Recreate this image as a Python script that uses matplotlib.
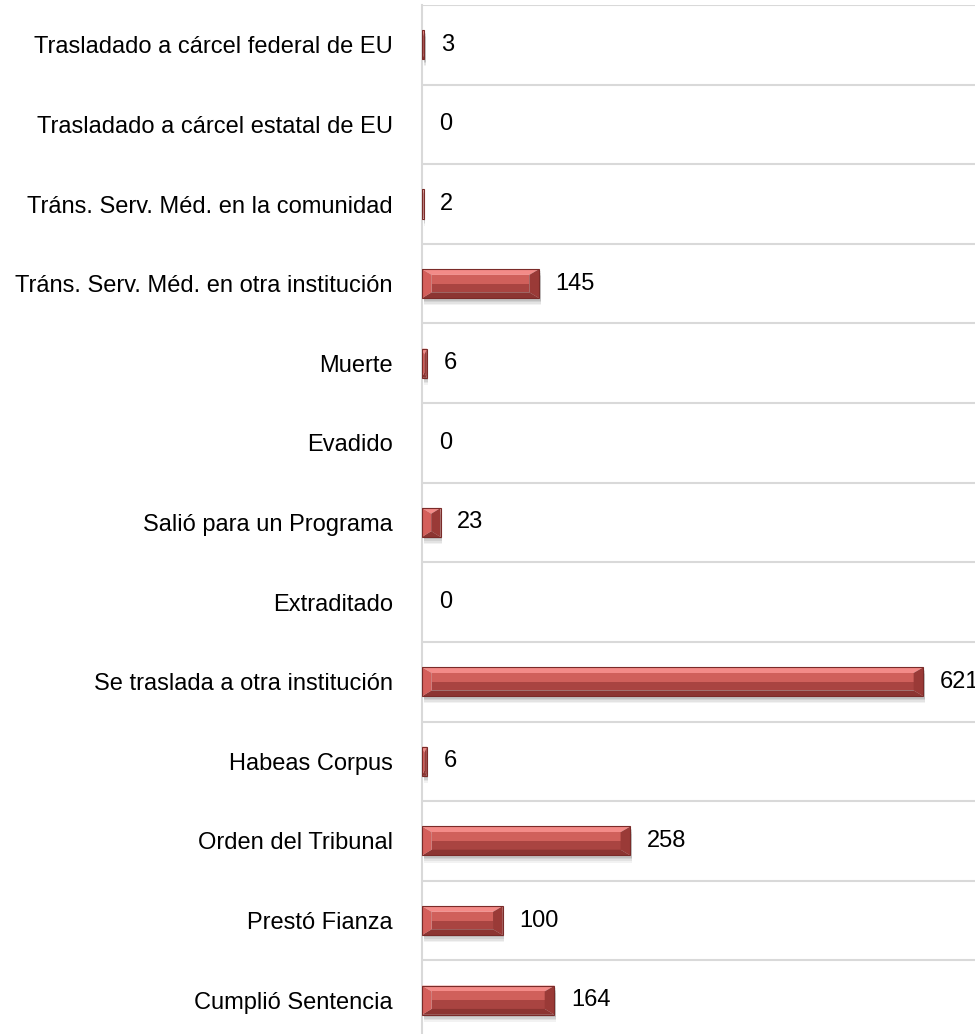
import numpy as np
import matplotlib.pyplot as plt
from matplotlib.patches import Polygon

plt.rcParams['font.family'] = ['Liberation Sans', 'DejaVu Sans']

categorias = ['Trasladado a cárcel federal de EU', 'Trasladado a cárcel estatal de EU',
              'Tráns. Serv. Méd. en la comunidad', 'Tráns. Serv. Méd. en otra institución',
              'Muerte', 'Evadido', 'Salió para un Programa', 'Extraditado',
              'Se traslada a otra institución', 'Habeas Corpus', 'Orden del Tribunal',
              'Prestó Fianza', 'Cumplió Sentencia']
valores = [3, 0, 2, 145, 6, 0, 23, 0, 621, 6, 258, 100, 164]

fig = plt.figure(figsize=(9.75, 10.34), dpi=100)
ax = fig.add_axes([0.4328, -0.0058, 0.5672, 1.001])

y = np.arange(len(categorias))
h = 0.365
xmax = 685

# sombra difusa bajo las barras
for k, a in zip([0.09, 0.07, 0.05, 0.03], [0.05, 0.06, 0.07, 0.08]):
    v_sh = [v if v > 0 else np.nan for v in valores]
    ax.barh(y + k, v_sh, height=h, left=2, color='#000000', alpha=a,
            edgecolor='none', zorder=2)

# bisel: franja superior clara, cara degradada, inferior oscura, extremos
bx = 12.0
dy = h * 0.2
for yi, v in zip(y, valores):
    if v <= 0:
        continue
    t, b = yi - h / 2, yi + h / 2
    e = min(bx, v / 2)
    m = (t + b) / 2
    ax.add_patch(Polygon([[0, t], [v, t], [v - e, t + dy], [e, t + dy]],
                         closed=True, facecolor='#f38b88', edgecolor='none', zorder=4))
    ax.add_patch(Polygon([[e, t + dy], [v - e, t + dy], [v - e, m], [e, m]],
                         closed=True, facecolor='#d0605b', edgecolor='none', zorder=4))
    ax.add_patch(Polygon([[e, m], [v - e, m], [v - e, b - dy], [e, b - dy]],
                         closed=True, facecolor='#a94441', edgecolor='none', zorder=4))
    ax.add_patch(Polygon([[0, b], [v, b], [v - e, b - dy], [e, b - dy]],
                         closed=True, facecolor='#8c3532', edgecolor='none', zorder=4))
    ax.add_patch(Polygon([[0, t], [e, t + dy], [e, b - dy], [0, b]],
                         closed=True, facecolor='#d45f5b', edgecolor='none', zorder=4))
    ax.add_patch(Polygon([[v, t], [v - e, t + dy], [v - e, b - dy], [v, b]],
                         closed=True, facecolor='#9a3a37', edgecolor='none', zorder=4))
    ax.add_patch(Polygon([[0, t], [v, t], [v, b], [0, b]], closed=True, facecolor='none',
                         edgecolor='#7a2b29', linewidth=0.8, zorder=5))

for yi, v in zip(y, valores):
    ax.annotate(str(v), (v, yi), xytext=(12, 0), textcoords='offset points',
                va='center', ha='left', fontsize=17, color='black', zorder=6,
                annotation_clip=False)

ax.set_xlim(0, xmax)
ax.set_ylim(len(categorias) - 0.5, -0.5)
ax.set_yticks(y)
ax.set_yticklabels(categorias, fontsize=17)
ax.set_yticks(np.arange(len(categorias) + 1) - 0.5, minor=True)
ax.tick_params(axis='y', which='both', length=0, pad=21)
ax.set_xticks([])
ax.grid(True, which='minor', axis='y', color='#d9d9d9', linewidth=1.5)
ax.set_axisbelow(True)

for s in ['top', 'right', 'bottom']:
    ax.spines[s].set_visible(False)
ax.spines['left'].set_color('#d9d9d9')
ax.spines['left'].set_linewidth(1.5)

fig.savefig('out.png', dpi=100)
